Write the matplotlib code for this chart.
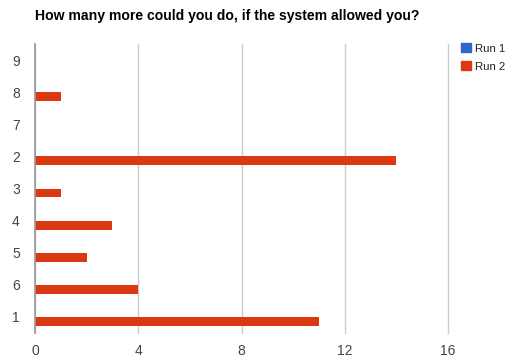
import numpy as np
import matplotlib.pyplot as plt
from matplotlib.patches import Patch

plt.rcParams['font.family'] = ['Liberation Sans', 'DejaVu Sans']

# answers, listed top to bottom as they appear on the chart
categories = ['9', '8', '7', '2', '3', '4', '5', '6', '1']
run1 = [0, 0, 0, 0, 0, 0, 0, 0, 0]
run2 = [0, 1, 0, 14, 1, 3, 2, 4, 11]
x_ticks = [0, 4, 8, 12, 16]

c_run1 = '#3366cc'
c_run2 = '#dc3912'

fig = plt.figure(figsize=(5.08, 3.6), dpi=100)
ax = fig.add_axes([35 / 508, 1 - 333 / 360, 413 / 508, 289 / 360])

n = len(categories)
y = np.arange(n)[::-1]
h = 0.28
ax.barh(y + h / 2, run1, height=h, color=c_run1, zorder=3)
ax.barh(y - h / 2, run2, height=h, color=c_run2, zorder=3)

ax.set_xlim(0, 16)
ax.set_ylim(-0.5, n - 0.5)
ax.set_xticks(x_ticks)
ax.set_xticklabels([str(t) for t in x_ticks])
ax.set_yticks(y)
ax.set_yticklabels(categories)
ax.tick_params(axis='both', length=0, labelsize=10, colors='#444444')
ax.tick_params(axis='y', pad=11)
ax.tick_params(axis='x', pad=8)

ax.grid(axis='x', color='#cccccc', linewidth=1, zorder=0)
for gl in ax.get_xgridlines():
    gl.set_clip_on(False)
for s in ['top', 'right', 'bottom']:
    ax.spines[s].set_visible(False)
ax.spines['left'].set_color('#999999')
ax.spines['left'].set_linewidth(1.2)
ax.spines['left'].set_zorder(4)

fig.text(35 / 508, 1 - 16 / 360, 'How many more could you do, if the system allowed you?',
         fontsize=10.1, fontweight='bold', color='#000000', va='center', ha='left')

handles = [Patch(color=c_run1, label='Run 1'), Patch(color=c_run2, label='Run 2')]
leg = fig.legend(handles=handles, loc='upper left', bbox_to_anchor=(461 / 508, 1 - 43 / 360),
                 frameon=False, fontsize=8.2, handlelength=0.88, handleheight=0.88,
                 handletextpad=0.38, labelspacing=0.65, borderpad=0, borderaxespad=0)
for t in leg.get_texts():
    t.set_color('#222222')

fig.savefig('out.png', dpi=100, facecolor='white')
